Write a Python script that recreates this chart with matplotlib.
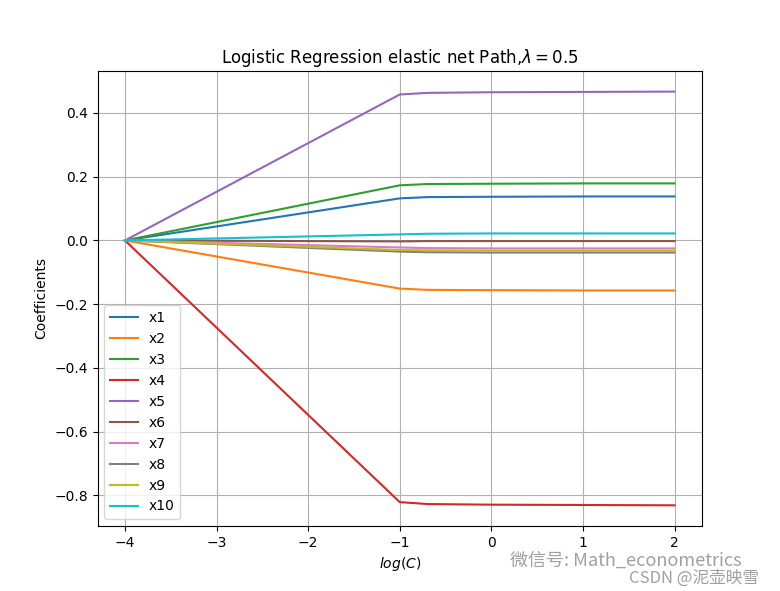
import matplotlib
matplotlib.use("Agg")
import matplotlib.pyplot as plt

# log10(C) grid used for the path
log_c = [-4, -1, -0.7, 0, 1, 2]

# coefficient paths
x1 = [0, 0.132, 0.136, 0.137, 0.138, 0.138]
x2 = [0, -0.151, -0.155, -0.156, -0.157, -0.157]
x3 = [0, 0.173, 0.177, 0.178, 0.179, 0.179]
x4 = [0, -0.821, -0.827, -0.829, -0.830, -0.831]
x5 = [0, 0.458, 0.463, 0.465, 0.466, 0.467]
x6 = [0, -0.003, -0.002, -0.002, -0.002, -0.002]
x7 = [0, -0.022, -0.024, -0.025, -0.025, -0.025]
x8 = [0, -0.035, -0.037, -0.038, -0.038, -0.038]
x9 = [0, -0.030, -0.031, -0.032, -0.032, -0.032]
x10 = [0, 0.019, 0.021, 0.022, 0.022, 0.022]

series = [x1, x2, x3, x4, x5, x6, x7, x8, x9, x10]
names = ["x1", "x2", "x3", "x4", "x5", "x6", "x7", "x8", "x9", "x10"]

fig, ax = plt.subplots(figsize=(7.8, 5.91), dpi=100)
for vals, name in zip(series, names):
    ax.plot(log_c, vals, label=name)

ax.set_title(r"Logistic Regression elastic net Path,$\lambda=0.5$")
ax.set_xlabel(r"$log(C)$")
ax.set_ylabel("Coefficients")
ax.grid(True)
ax.legend(loc="lower left")

# watermark
wm_font = ["Noto Sans CJK SC", "DejaVu Sans"]
fig.text(0.654, 0.052, "微信号: Math_econometrics", fontsize=13,
         color="#a0a0a0", family=wm_font, va="center")
fig.text(0.807, 0.022, "CSDN @泥壶映雪", fontsize=12,
         color="#a0a0a0", family=wm_font, va="center")

fig.savefig("out.png", dpi=100)
